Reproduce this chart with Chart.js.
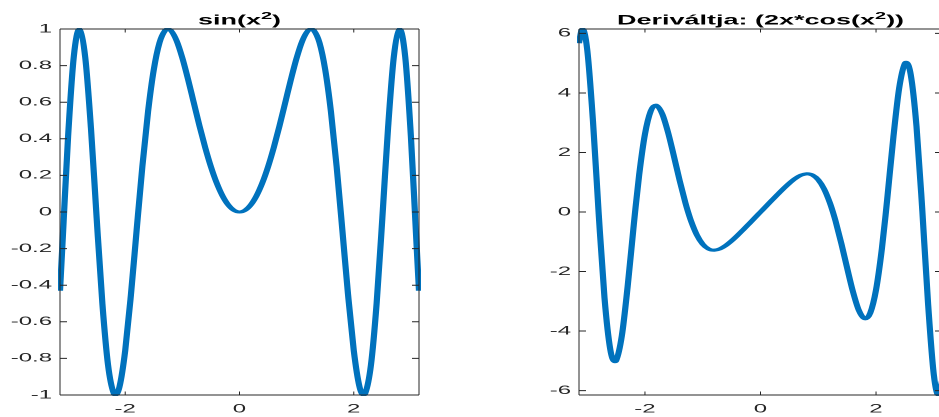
<!DOCTYPE html>
<html>
<head>
<meta charset="utf-8">
<title>sin(x²) és deriváltja</title>
<script src="https://cdn.jsdelivr.net/npm/chart.js@4.4.1/dist/chart.umd.min.js"></script>
<style>
  html, body { margin: 0; padding: 0; background: #fff; overflow: hidden; }
  /* the figure is laid out narrow and stretched sideways */
  #figure { position: absolute; left: 0; top: 0; width: 480px; height: 417px; transform: scaleX(2); transform-origin: 0 0; }
  #figure canvas { position: absolute; top: 0; }
</style>
</head>
<body>
<div id="figure">
  <canvas id="sinChart" width="215" height="417" style="left:0"></canvas>
  <canvas id="derivChart" width="240" height="417" style="left:240px"></canvas>
</div>
<script>
// Sample points on [-pi, pi]
const xValues = [
  -3.1416, -3.1, -3.0786, -3.0, -2.9, -2.8025, -2.8, -2.7, -2.6, -2.5222,
  -2.5, -2.4, -2.3, -2.2, -2.1708, -2.1, -2.0, -1.9, -1.8145, -1.8,
  -1.7, -1.6, -1.5, -1.4, -1.3, -1.2533, -1.2, -1.1, -1.0, -0.9,
  -0.8083, -0.8, -0.7, -0.6, -0.5, -0.4, -0.3, -0.2, -0.1,
  0,
  0.1, 0.2, 0.3, 0.4, 0.5, 0.6, 0.7, 0.8, 0.8083, 0.9,
  1.0, 1.1, 1.2, 1.2533, 1.3, 1.4, 1.5, 1.6, 1.7, 1.8,
  1.8145, 1.9, 2.0, 2.1, 2.1708, 2.2, 2.3, 2.4, 2.5, 2.5222,
  2.6, 2.7, 2.8, 2.8025, 2.9, 3.0, 3.0786, 3.1, 3.1416,
];

// sin(x^2)
const sinValues = [
  -0.4303, -0.1842, -0.053, 0.4121, 0.8494, 1.0, 0.9999, 0.8452, 0.459, 0.0782,
  -0.0332, -0.4997, -0.8378, -0.9919, -1.0, -0.9546, -0.7568, -0.4515, -0.1503, -0.0983,
  0.2489, 0.5494, 0.7781, 0.9252, 0.9929, 1.0, 0.9915, 0.9356, 0.8415, 0.7243,
  0.6078, 0.5972, 0.4706, 0.3523, 0.2474, 0.1593, 0.0899, 0.04, 0.01,
  0,
  0.01, 0.04, 0.0899, 0.1593, 0.2474, 0.3523, 0.4706, 0.5972, 0.6078, 0.7243,
  0.8415, 0.9356, 0.9915, 1.0, 0.9929, 0.9252, 0.7781, 0.5494, 0.2489, -0.0983,
  -0.1503, -0.4515, -0.7568, -0.9546, -1.0, -0.9919, -0.8378, -0.4997, -0.0332, 0.0782,
  0.459, 0.8452, 0.9999, 1.0, 0.8494, 0.4121, -0.053, -0.1842, -0.4303,
];

// 2x*cos(x^2)
const derivValues = [
  5.6718, 6.094, 6.1486, 5.4668, 3.0612, 0, -0.0783, -2.8867, -4.62, -5.029,
  -4.9972, -4.1579, -2.5117, -0.5599, 0, 1.2508, 2.6146, 3.3907, 3.5878, 3.5826,
  3.293, 2.6739, 1.8845, 1.0625, 0.3092, 0, -0.313, -0.7766, -1.0806, -1.2411,
  -1.2838, -1.2834, -1.2353, -1.1231, -0.9689, -0.7898, -0.5976, -0.3997, -0.2,
  0,
  0.2, 0.3997, 0.5976, 0.7898, 0.9689, 1.1231, 1.2353, 1.2834, 1.2838, 1.2411,
  1.0806, 0.7766, 0.313, 0, -0.3092, -1.0625, -1.8845, -2.6739, -3.293, -3.5826,
  -3.5878, -3.3907, -2.6146, -1.2508, 0, 0.5599, 2.5117, 4.1579, 4.9972, 5.029,
  4.62, 2.8867, 0.0783, 0, -3.0612, -5.4668, -6.1486, -6.094, -5.6718,
];

const xTicks = [-2, 0, 2];
const sinTicks = [-1, -0.8, -0.6, -0.4, -0.2, 0, 0.2, 0.4, 0.6, 0.8, 1];
const derivTicks = [-6, -4, -2, 0, 2, 4, 6];

// titles as [text, superscript?] pieces
const sinTitle = [["sin(x", false], ["2", true], [")", false]];
const derivTitle = [["Deriváltja: (2x*cos(x", false], ["2", true], ["))", false]];

const fontFamily = "'Liberation Sans', Arial, sans-serif";
Chart.defaults.font.family = fontFamily;

// box round the plot area with inward ticks on all four sides
const axesBox = {
  id: "axesBox",
  afterDraw(chart) {
    const ctx = chart.ctx;
    const a = chart.chartArea;
    const xs = chart.scales.x;
    const ys = chart.scales.y;
    const len = 3.5;
    ctx.save();
    ctx.strokeStyle = "#262626";

    ctx.lineWidth = 1;
    ctx.beginPath();
    ctx.moveTo(a.left, a.top);
    ctx.lineTo(a.right, a.top);
    ctx.moveTo(a.left, a.bottom);
    ctx.lineTo(a.right, a.bottom);
    ys.ticks.forEach((t) => {
      let y = ys.getPixelForValue(t.value);
      ctx.moveTo(a.left, y);
      ctx.lineTo(a.left + len, y);
      ctx.moveTo(a.right, y);
      ctx.lineTo(a.right - len, y);
    });
    ctx.stroke();

    ctx.lineWidth = 0.5;
    ctx.beginPath();
    ctx.moveTo(a.left, a.top);
    ctx.lineTo(a.left, a.bottom);
    ctx.moveTo(a.right, a.top);
    ctx.lineTo(a.right, a.bottom);
    xs.ticks.forEach((t) => {
      let x = xs.getPixelForValue(t.value);
      ctx.moveTo(x, a.bottom);
      ctx.lineTo(x, a.bottom - len);
      ctx.moveTo(x, a.top);
      ctx.lineTo(x, a.top + len);
    });
    ctx.stroke();
    ctx.restore();
  },
};

// bold title over the plot, with a raised smaller "2"
const supTitle = {
  id: "supTitle",
  afterDraw(chart, args, opts) {
    const ctx = chart.ctx;
    const a = chart.chartArea;
    const mainFont = "bold 13.5px " + fontFamily;
    const supFont = "bold 10px " + fontFamily;
    ctx.save();
    ctx.fillStyle = "#000";
    ctx.textBaseline = "alphabetic";
    let total = 0;
    opts.parts.forEach((p) => {
      ctx.font = p[1] ? supFont : mainFont;
      total += ctx.measureText(p[0]).width;
    });
    let x = (a.left + a.right) / 2 - total / 2;
    const baseline = a.top - 4.5;
    opts.parts.forEach((p) => {
      ctx.font = p[1] ? supFont : mainFont;
      ctx.fillText(p[0], x, p[1] ? baseline - 5.5 : baseline);
      x += ctx.measureText(p[0]).width;
    });
    ctx.restore();
  },
};

function createChart(id, values, yMin, yMax, yTicks, title, yAxisWidth, padRight) {
  const points = xValues.map((x, i) => ({ x: x, y: values[i] }));

  new Chart(document.getElementById(id), {
    type: "line",
    data: {
      datasets: [
        {
          data: points,
          borderColor: "#0072bd",
          borderWidth: 3.1,
          pointRadius: 0,
          fill: false,
          cubicInterpolationMode: "monotone",
          clip: 1,
        },
      ],
    },
    options: {
      responsive: false,
      animation: false,
      devicePixelRatio: 2,
      layout: { padding: { left: 0, right: padRight, top: 29, bottom: 0 } },
      scales: {
        x: {
          type: "linear",
          min: -3.1416,
          max: 3.1416,
          grid: { display: false, drawTicks: false },
          border: { display: false },
          afterBuildTicks: (scale) => {
            scale.ticks = xTicks.map((v) => ({ value: v }));
          },
          afterFit: (scale) => {
            scale.height = 22;
          },
          ticks: {
            padding: 7,
            color: "#262626",
            font: { size: 12 },
            maxRotation: 0,
            callback: (v) => String(v),
          },
        },
        y: {
          min: yMin,
          max: yMax,
          grid: { display: false, drawTicks: false },
          border: { display: false },
          afterBuildTicks: (scale) => {
            scale.ticks = yTicks.map((v) => ({ value: v }));
          },
          afterFit: (scale) => {
            scale.width = yAxisWidth;
          },
          ticks: {
            padding: 4,
            color: "#262626",
            font: { size: 12 },
            callback: (v) => String(v),
          },
        },
      },
      plugins: {
        legend: { display: false },
        tooltip: { enabled: false },
        title: { display: false },
        supTitle: { parts: title },
      },
    },
    plugins: [axesBox, supTitle],
  });
}

createChart("sinChart", sinValues, -1, 1, sinTicks, sinTitle, 30, 5.5);
createChart("derivChart", derivValues, -6.1486, 6.1486, derivTicks, derivTitle, 49.5, 9);
</script>
</body>
</html>
